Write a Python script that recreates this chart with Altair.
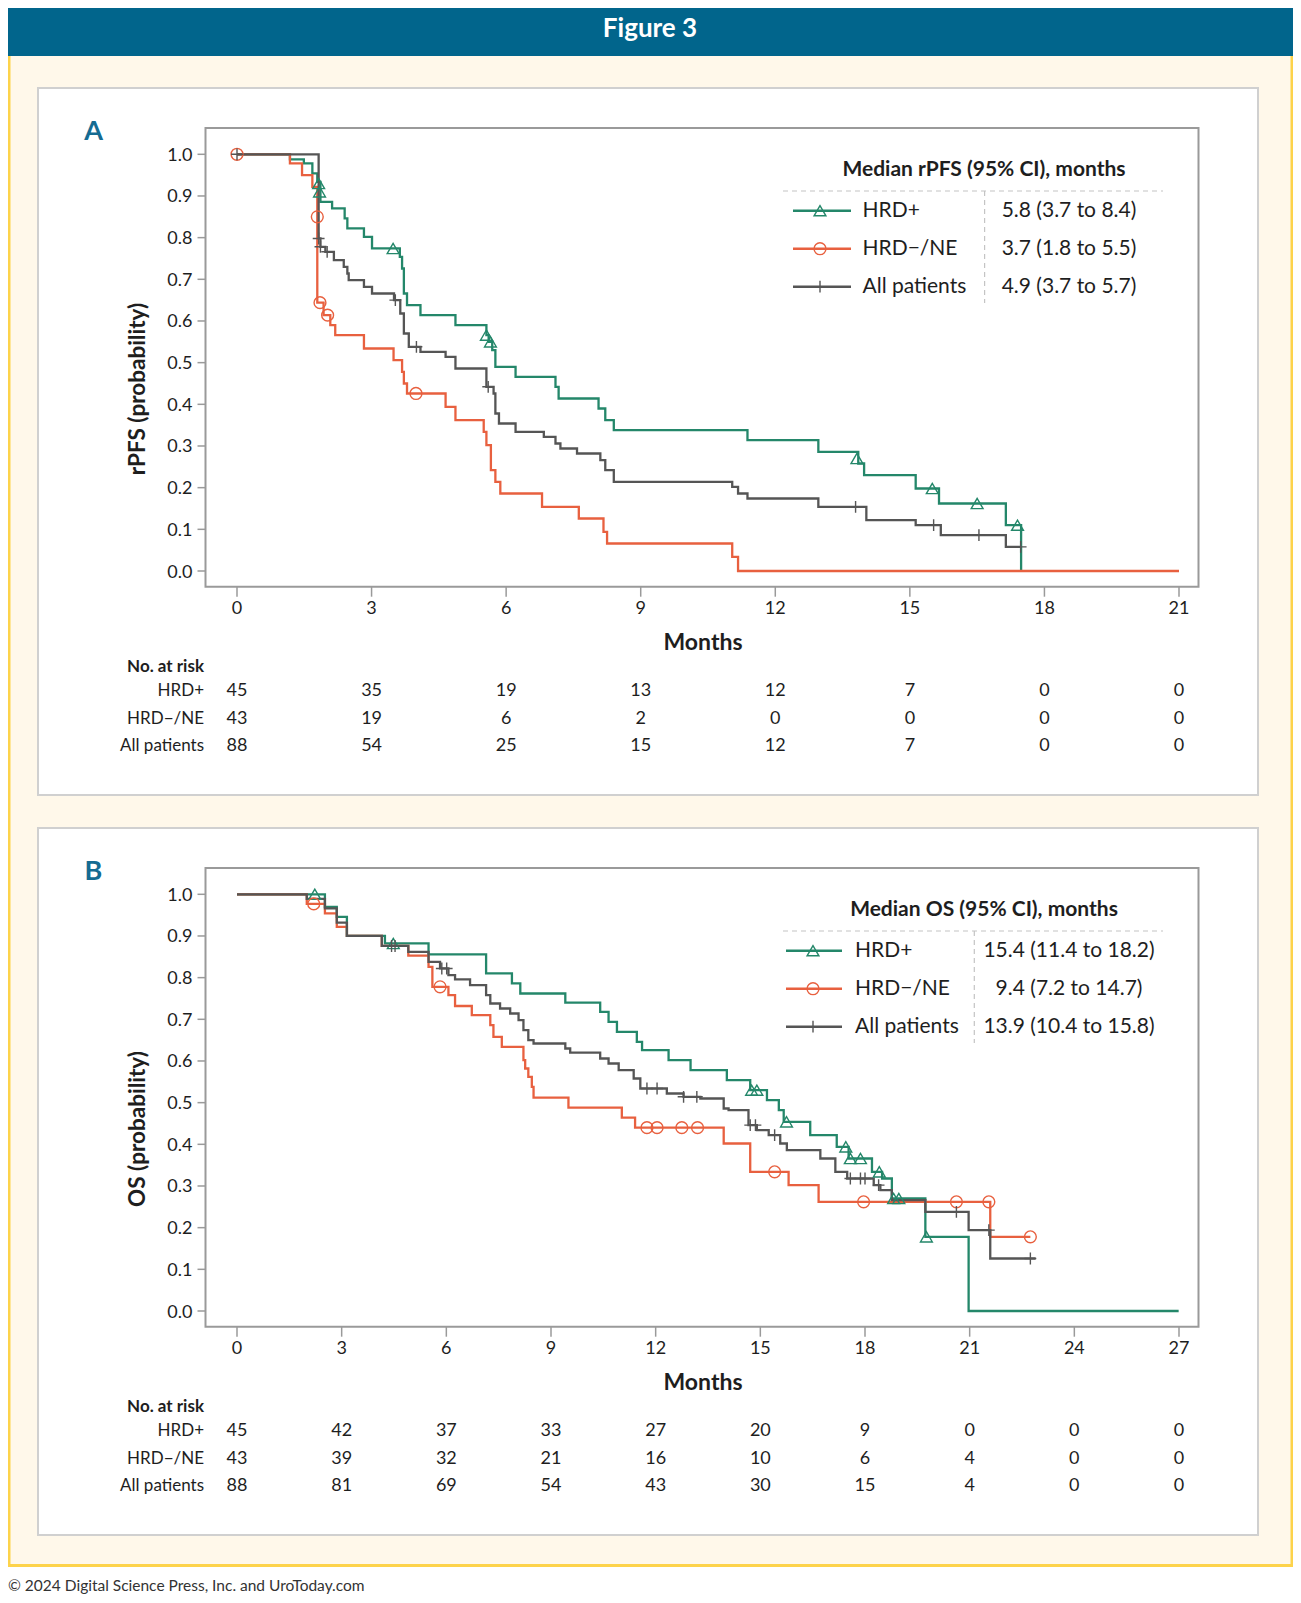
import altair as alt
import pandas as pd

# ---------------------------------------------------------------- data
GROUPS = ["HRD+", "HRD−/NE", "All patients"]
COLORS = ["#24876a", "#e8603f", "#555555"]
SHAPES = ["triangle-up", "circle", "M-1,0L1,0M0,-1L0,1"]

# Panel A: rPFS (months, probability), step-after points
A_POS_T = [0, 1.18, 1.49, 1.68, 1.79, 1.86, 2.12, 2.40, 2.46, 2.83, 3.01, 3.63, 3.68, 3.72, 3.79, 4.09, 4.87,
           5.56, 5.61, 5.69, 5.76, 6.21, 7.10, 7.17, 8.06, 8.21, 8.40, 11.38, 12.96, 13.85, 13.98, 15.13, 15.65,
           17.14, 17.48]
A_POS_S = [1.0, 0.988, 0.978, 0.954, 0.934, 0.886, 0.870, 0.846, 0.822, 0.802, 0.774, 0.754, 0.726, 0.666, 0.638,
           0.614, 0.590, 0.566, 0.550, 0.530, 0.490, 0.466, 0.442, 0.414, 0.390, 0.362, 0.338, 0.314, 0.286, 0.258,
           0.230, 0.198, 0.162, 0.110, 0.0]
A_NEG_T = [0, 1.18, 1.45, 1.68, 1.79, 1.93, 2.08, 2.19, 2.83, 3.49, 3.68, 3.72, 3.79, 4.65, 4.87, 5.50, 5.56, 5.66,
           5.76, 5.87, 6.80, 7.62, 8.17, 8.25, 11.04, 11.17, 21.0]
A_NEG_S = [1.0, 0.978, 0.950, 0.922, 0.644, 0.614, 0.590, 0.566, 0.534, 0.506, 0.478, 0.450, 0.426, 0.394, 0.362,
           0.334, 0.302, 0.242, 0.214, 0.186, 0.154, 0.126, 0.094, 0.066, 0.034, 0.0, 0.0]
A_ALL_T = [0, 1.82, 1.86, 1.97, 2.16, 2.38, 2.46, 2.49, 2.83, 3.01, 3.50, 3.64, 3.72, 3.83, 4.09, 4.65, 4.87, 5.56,
           5.72, 5.76, 5.84, 6.21, 6.84, 7.10, 7.21, 7.58, 8.10, 8.21, 8.40, 11.04, 11.17, 11.38, 12.96, 14.03,
           15.13, 15.69, 17.14, 17.48]
A_ALL_S = [1.0, 0.798, 0.778, 0.766, 0.746, 0.730, 0.714, 0.698, 0.682, 0.666, 0.650, 0.618, 0.570, 0.538, 0.526,
           0.514, 0.486, 0.442, 0.426, 0.378, 0.354, 0.334, 0.322, 0.306, 0.294, 0.282, 0.266, 0.242, 0.214, 0.202,
           0.186, 0.174, 0.154, 0.122, 0.110, 0.086, 0.058, 0.058]
# censored observations, panel A
A_POS_CT = [1.82, 1.84, 3.48, 5.56, 5.65, 13.82, 15.50, 16.50, 17.40]
A_POS_CS = [0.930, 0.910, 0.774, 0.566, 0.550, 0.270, 0.198, 0.162, 0.110]
A_NEG_CT = [0, 1.79, 1.85, 2.02, 3.99]
A_NEG_CS = [1.0, 0.850, 0.644, 0.614, 0.426]
A_ALL_CT = [0, 1.82, 1.86, 2.01, 3.53, 4.00, 5.60, 13.79, 15.53, 16.54, 17.47]
A_ALL_CS = [1.0, 0.798, 0.778, 0.766, 0.650, 0.538, 0.442, 0.154, 0.110, 0.086, 0.058]

# Panel B: OS
B_POS_T = [0, 2.52, 2.86, 3.15, 4.24, 5.49, 7.14, 7.88, 8.12, 9.41, 10.41, 10.65, 10.89, 11.46, 11.61, 12.37,
           13.00, 14.04, 14.71, 15.19, 15.53, 15.67, 16.43, 17.19, 17.53, 18.20, 18.49, 18.77, 19.73, 20.97, 26.99]
B_POS_S = [1.0, 0.970, 0.946, 0.900, 0.882, 0.856, 0.810, 0.786, 0.762, 0.740, 0.718, 0.694, 0.670, 0.646, 0.626,
           0.602, 0.578, 0.554, 0.530, 0.506, 0.482, 0.454, 0.422, 0.394, 0.366, 0.334, 0.318, 0.270, 0.178, 0.0, 0.0]
B_NEG_T = [0, 2.00, 2.52, 2.86, 3.15, 4.15, 4.91, 5.49, 5.60, 6.06, 6.25, 6.73, 7.26, 7.35, 7.59, 8.21, 8.26, 8.35,
           8.45, 8.50, 9.50, 11.03, 11.41, 13.95, 14.71, 15.81, 16.67, 21.59, 22.74]
B_NEG_S = [1.0, 0.977, 0.954, 0.922, 0.900, 0.876, 0.853, 0.826, 0.778, 0.758, 0.732, 0.710, 0.686, 0.658, 0.634,
           0.602, 0.582, 0.562, 0.538, 0.512, 0.488, 0.464, 0.440, 0.402, 0.334, 0.302, 0.262, 0.178, 0.178]
B_ALL_T = [0, 2.00, 2.52, 2.86, 3.15, 4.15, 4.91, 5.49, 5.82, 6.06, 6.25, 6.68, 7.14, 7.26, 7.54, 7.83, 8.07, 8.21,
           8.35, 8.50, 9.41, 9.55, 10.41, 10.65, 10.94, 11.37, 11.56, 12.32, 12.80, 13.28, 13.95, 14.09, 14.66,
           14.90, 15.24, 15.57, 15.76, 16.72, 17.15, 17.49, 18.25, 18.44, 18.77, 19.73, 20.97, 21.59, 22.89]
B_ALL_S = [1.0, 0.989, 0.966, 0.932, 0.900, 0.876, 0.862, 0.838, 0.822, 0.806, 0.796, 0.782, 0.758, 0.738, 0.726,
           0.714, 0.698, 0.674, 0.650, 0.642, 0.630, 0.620, 0.606, 0.594, 0.578, 0.558, 0.534, 0.522, 0.514, 0.510,
           0.486, 0.482, 0.446, 0.434, 0.422, 0.402, 0.386, 0.366, 0.334, 0.318, 0.302, 0.290, 0.266, 0.238, 0.194,
           0.126, 0.126]
B_POS_CT = [2.23, 4.48, 14.75, 14.90, 15.75, 17.45, 17.58, 17.87, 18.41, 18.82, 18.97, 19.76]
B_POS_CS = [1.0, 0.882, 0.530, 0.530, 0.454, 0.394, 0.366, 0.366, 0.334, 0.270, 0.270, 0.178]
B_NEG_CT = [2.20, 5.82, 11.75, 12.04, 12.75, 13.20, 15.41, 17.96, 20.62, 21.55, 22.74]
B_NEG_CS = [0.977, 0.778, 0.440, 0.440, 0.440, 0.440, 0.334, 0.262, 0.262, 0.262, 0.178]
B_ALL_CT = [4.43, 4.53, 5.87, 6.01, 11.75, 12.04, 12.80, 13.18, 14.71, 14.86, 15.41, 17.58, 17.87, 18.00, 18.39,
            20.62, 21.55, 22.74]
B_ALL_CS = [0.876, 0.876, 0.822, 0.822, 0.534, 0.534, 0.514, 0.514, 0.446, 0.446, 0.422, 0.318, 0.318, 0.318,
            0.302, 0.238, 0.194, 0.126]

# number at risk
A_RISK_T = [0, 3, 6, 9, 12, 15, 18, 21]
A_RISK_POS = [45, 35, 19, 13, 12, 7, 0, 0]
A_RISK_NEG = [43, 19, 6, 2, 0, 0, 0, 0]
A_RISK_ALL = [88, 54, 25, 15, 12, 7, 0, 0]
B_RISK_T = [0, 3, 6, 9, 12, 15, 18, 21, 24, 27]
B_RISK_POS = [45, 42, 37, 33, 27, 20, 9, 0, 0, 0]
B_RISK_NEG = [43, 39, 32, 21, 16, 10, 6, 4, 0, 0]
B_RISK_ALL = [88, 81, 69, 54, 43, 30, 15, 4, 0, 0]

A_MEDIANS = ["5.8 (3.7 to 8.4)", "3.7 (1.8 to 5.5)", "4.9 (3.7 to 5.7)"]
B_MEDIANS = ["15.4 (11.4 to 18.2)", "9.4 (7.2 to 14.7)", "13.9 (10.4 to 15.8)"]
Y_TICKS = [0.0, 0.1, 0.2, 0.3, 0.4, 0.5, 0.6, 0.7, 0.8, 0.9, 1.0]
Y_TICK_LABELS = ["0.0", "0.1", "0.2", "0.3", "0.4", "0.5", "0.6", "0.7", "0.8", "0.9", "1.0"]

# ---------------------------------------------------------------- layout helpers
W, H = 1285, 1587
M = 8                      # page margin: chart coordinate = page coordinate - 8
FONT = "Lato"
INK = "#1e1e1e"
AXC = "#9a9a9a"


def P(v):
    return v - M


ONE = pd.DataFrame({"k": [0]})


def rect(x1, y1, x2, y2, **kw):
    return alt.Chart(ONE).mark_rect(**kw).encode(
        x=alt.value(P(x1)), x2=alt.value(P(x2)), y=alt.value(P(y1)), y2=alt.value(P(y2)))


def hline(x1, x2, y, **kw):
    return alt.Chart(ONE).mark_rule(**kw).encode(x=alt.value(P(x1)), x2=alt.value(P(x2)), y=alt.value(P(y)))


def vline(x, y1, y2, **kw):
    return alt.Chart(ONE).mark_rule(**kw).encode(x=alt.value(P(x)), y=alt.value(P(y1)), y2=alt.value(P(y2)))


def text(s, x, y, **kw):
    kw.setdefault("baseline", "middle")
    kw.setdefault("color", INK)
    kw.setdefault("font", FONT)
    return alt.Chart(ONE).mark_text(text=s, **kw).encode(x=alt.value(P(x)), y=alt.value(P(y)))


CS = alt.Scale(domain=GROUPS, range=COLORS)
SS = alt.Scale(domain=GROUPS, range=SHAPES)


def panel(dy, xmax, curves, censors, risk_t, risk, medians, header, ytitle, letter, leg):
    xs = alt.Scale(domain=[0, xmax], range=[P(237), P(1179)], nice=False, zero=False)
    ys = alt.Scale(domain=[0, 1], range=[P(571 + dy), P(154.3 + dy)], nice=False, zero=False)
    X = alt.X("t:Q", scale=xs, axis=None)
    Y = alt.Y("s:Q", scale=ys, axis=None)

    rows = []
    for g, (T, S) in zip(GROUPS, curves):
        for i, (t, s) in enumerate(zip(T, S)):
            rows.append({"group": g, "t": t, "s": s, "i": i})
    cdf = pd.DataFrame(rows)
    prow = []
    for g, (T, S) in zip(GROUPS, censors):
        for t, s in zip(T, S):
            prow.append({"group": g, "t": t, "s": s})
    pdf = pd.DataFrame(prow)

    lines = alt.Chart(cdf).mark_line(interpolate="step-after", strokeWidth=2.3).encode(
        x=X, y=Y, color=alt.Color("group:N", scale=CS, legend=None), order="i:Q")
    pts = alt.Chart(pdf).mark_point(filled=False, strokeWidth=1.4, size=140, opacity=1).encode(
        x=X, y=Y,
        color=alt.Color("group:N", scale=CS, legend=None),
        shape=alt.Shape("group:N", scale=SS, legend=None))

    # axes (ticks + labels drawn through the same scales)
    xt = pd.DataFrame({"t": risk_t, "lab": [str(v) for v in risk_t]})
    yt = pd.DataFrame({"s": Y_TICKS, "lab": Y_TICK_LABELS})
    x_ticks = alt.Chart(xt).mark_rule(color=AXC, strokeWidth=1.5).encode(
        x=X, y=alt.value(P(586.7 + dy)), y2=alt.value(P(596.7 + dy)))
    x_labs = alt.Chart(xt).mark_text(fontSize=18, font=FONT, color=INK, baseline="middle", align="center").encode(
        x=X, y=alt.value(P(608.5 + dy)), text="lab:N")
    y_ticks = alt.Chart(yt).mark_rule(color=AXC, strokeWidth=1.5).encode(
        y=Y, x=alt.value(P(197.5)), x2=alt.value(P(205.5)))
    y_labs = alt.Chart(yt).mark_text(fontSize=18, font=FONT, color=INK, baseline="middle", align="right",
                                     dy=1.5).encode(
        y=Y, x=alt.value(P(192.5)), text="lab:N")
    plot = alt.layer(x_ticks, x_labs, y_ticks, y_labs, lines, pts)

    # legend / median table inside the plot
    ldf = pd.DataFrame({"group": GROUPS, "label": GROUPS, "median": medians})
    ly = alt.Scale(type="point", domain=GROUPS, range=[P(210.7 + dy), P(286.7 + dy)], padding=0)
    l_rule = alt.Chart(ldf).mark_rule(strokeWidth=2.5).encode(
        x=alt.value(P(leg[0])), x2=alt.value(P(leg[1])),
        y=alt.Y("group:N", scale=ly, axis=None),
        color=alt.Color("group:N", scale=CS, legend=None))
    l_pt = alt.Chart(ldf).mark_point(filled=False, strokeWidth=1.4, size=140, opacity=1).encode(
        x=alt.value(P(leg[2])), y=alt.Y("group:N", scale=ly, axis=None),
        color=alt.Color("group:N", scale=CS, legend=None),
        shape=alt.Shape("group:N", scale=SS, legend=None))
    l_lab = alt.Chart(ldf).mark_text(align="left", baseline="middle", fontSize=21, font=FONT, color=INK).encode(
        x=alt.value(P(leg[3])), y=alt.Y("group:N", scale=ly, axis=None), text="label:N")
    l_val = alt.Chart(ldf).mark_text(align="center", baseline="middle", fontSize=21, font=FONT, color=INK).encode(
        x=alt.value(P(1069)), y=alt.Y("group:N", scale=ly, axis=None), text="median:N")
    legend = alt.layer(l_rule, l_pt, l_lab, l_val)

    # number at risk table
    rrows = []
    for g, ns in zip(GROUPS, risk):
        for t, n in zip(risk_t, ns):
            rrows.append({"group": g, "t": t, "n": n})
    rdf = pd.DataFrame(rrows)
    ry = alt.Scale(type="point", domain=GROUPS, range=[P(691 + dy), P(746 + dy)], padding=0)
    r_num = alt.Chart(rdf).mark_text(align="center", baseline="middle", fontSize=18, font=FONT, color=INK).encode(
        x=X, y=alt.Y("group:N", scale=ry, axis=None), text="n:Q")
    r_lab = alt.Chart(ldf).mark_text(align="right", baseline="middle", fontSize=17, font=FONT, color=INK).encode(
        x=alt.value(P(204)), y=alt.Y("group:N", scale=ry, axis=None), text="label:N")
    risk_tbl = alt.layer(r_num, r_lab)

    deco = [
        rect(38, 88 + dy, 1258, 795 + dy, fill="#ffffff", stroke="#d0d0d0", strokeWidth=2),
        rect(205.5, 128 + dy, 1198.5, 586.7 + dy, fillOpacity=0, stroke=AXC, strokeWidth=2),
        text(letter, 93.5, 131.5 + dy, fontSize=27, fontWeight="bold", color="#156b92", align="center"),
        text(ytitle, 138, 389 + dy, fontSize=22.5, fontWeight="bold", angle=270, align="center"),
        text("Months", 703, 643 + dy, fontSize=23, fontWeight="bold", align="center"),
        text("No. at risk", 204, 666.5 + dy, fontSize=17, fontWeight="bold", align="right"),
        text(header, 984, 170 + dy, fontSize=21, fontWeight="bold", align="center"),
        hline(783, 1163, 191 + dy, color="#c4c4c4", strokeWidth=1.2, strokeDash=[5, 4]),
        vline(leg[4], 191 + dy, 303 + dy, color="#c4c4c4", strokeWidth=1.2, strokeDash=[5, 4]),
    ]
    return deco, [plot, legend, risk_tbl]


decoA, partsA = panel(0, 21, [(A_POS_T, A_POS_S), (A_NEG_T, A_NEG_S), (A_ALL_T, A_ALL_S)],
                      [(A_POS_CT, A_POS_CS), (A_NEG_CT, A_NEG_CS), (A_ALL_CT, A_ALL_CS)],
                      A_RISK_T, [A_RISK_POS, A_RISK_NEG, A_RISK_ALL], A_MEDIANS,
                      "Median rPFS (95% CI), months", "rPFS (probability)", "A",
                      (793, 851, 820, 862.5, 984.6))
decoB, partsB = panel(740, 27, [(B_POS_T, B_POS_S), (B_NEG_T, B_NEG_S), (B_ALL_T, B_ALL_S)],
                      [(B_POS_CT, B_POS_CS), (B_NEG_CT, B_NEG_CS), (B_ALL_CT, B_ALL_CS)],
                      B_RISK_T, [B_RISK_POS, B_RISK_NEG, B_RISK_ALL], B_MEDIANS,
                      "Median OS (95% CI), months", "OS (probability)", "B",
                      (786, 842, 813, 855, 974.3))

page = [
    rect(8, 56, 1293, 1567, fill="#fff8ea"),
    rect(8, 1564, 1293, 1567, fill="#fdd34b"),
    rect(8, 56, 10.5, 1567, fill="#fdd34b"),
    rect(1290.5, 56, 1293, 1567, fill="#fdd34b"),
    rect(8, 8, 1293, 56, fill="#01658c"),
    text("Figure 3", 650, 29, fontSize=26, fontWeight="bold", color="#ffffff", align="center"),
    text("© 2024 Digital Science Press, Inc. and UroToday.com", 8, 1586, fontSize=15.5, color="#333333",
         align="left"),
]

chart = alt.layer(*page, *decoA, *decoB, *partsA, *partsB).resolve_scale(
    x="independent", y="independent"
).properties(
    width=W, height=H, autosize=alt.AutoSizeParams(type="none"), padding=0
).configure(font=FONT, background="#ffffff").configure_view(stroke=None)

chart.save("out.html", embed_options={"renderer": "svg", "actions": False})
